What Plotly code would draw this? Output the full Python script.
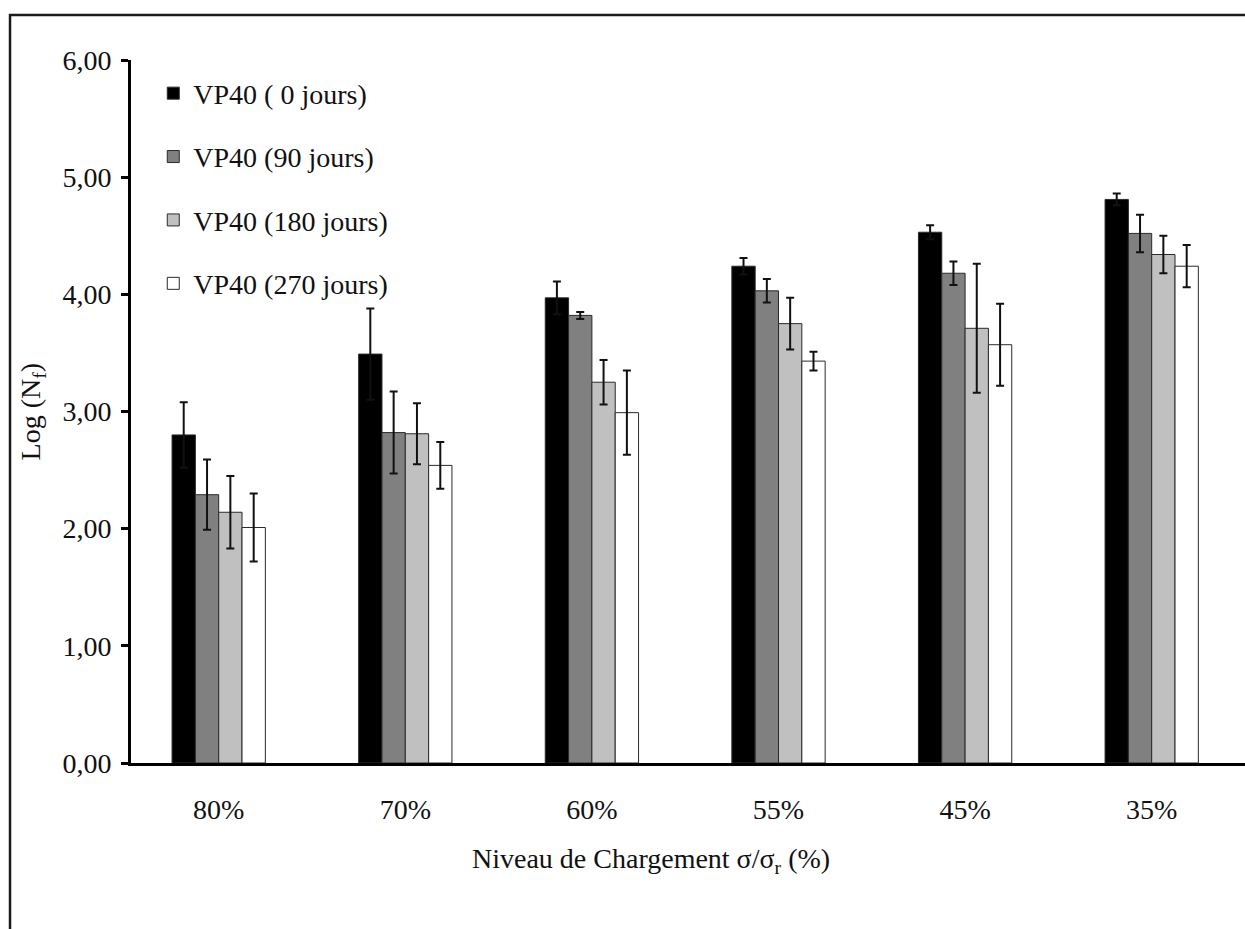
import plotly.graph_objects as go

# Loading levels (sigma / sigma_r)
categories = ["80%", "70%", "60%", "55%", "45%", "35%"]

# Mean Log(Nf) per ageing duration, with standard deviation
vp40_0j = [2.80, 3.49, 3.97, 4.24, 4.53, 4.81]
vp40_0j_err = [0.28, 0.39, 0.14, 0.07, 0.06, 0.05]

vp40_90j = [2.29, 2.82, 3.82, 4.03, 4.18, 4.52]
vp40_90j_err = [0.30, 0.35, 0.03, 0.10, 0.10, 0.16]

vp40_180j = [2.14, 2.81, 3.25, 3.75, 3.71, 4.34]
vp40_180j_err = [0.31, 0.26, 0.19, 0.22, 0.55, 0.16]

vp40_270j = [2.01, 2.54, 2.99, 3.43, 3.57, 4.24]
vp40_270j_err = [0.29, 0.20, 0.36, 0.08, 0.35, 0.18]

series_names = ["VP40 ( 0 jours)", "VP40 (90 jours)", "VP40 (180 jours)", "VP40 (270 jours)"]
series_values = [vp40_0j, vp40_90j, vp40_180j, vp40_270j]
series_errors = [vp40_0j_err, vp40_90j_err, vp40_180j_err, vp40_270j_err]
series_colors = ["#000000", "#808080", "#c0c0c0", "#ffffff"]

FONT = "Liberation Serif, Times New Roman, serif"
FS = 28

fig = go.Figure()
for i, (name, vals, errs, col) in enumerate(zip(series_names, series_values, series_errors, series_colors)):
    fig.add_trace(go.Bar(
        x=categories,
        y=vals,
        name=name,
        legendgroup=f"g{i}",
        marker=dict(color=col, line=dict(color="#2a2a2a", width=1)),
        error_y=dict(type="data", array=errs, visible=True,
                     color="#111111", thickness=2, width=4),
    ))

# Outer frame (left and top edges visible in the canvas)
fig.add_shape(type="rect", xref="paper", yref="paper",
              x0=-0.1086, x1=1.05, y0=-0.35, y1=1.064,
              line=dict(color="#1a1a1a", width=2.5), fillcolor="rgba(0,0,0,0)",
              layer="below")

# Axis titles
fig.add_annotation(text="Niveau de Chargement σ/σ<sub>r</sub> (%)",
                   xref="paper", yref="paper", x=0.4668, y=-0.139,
                   xanchor="center", yanchor="middle", showarrow=False,
                   font=dict(family=FONT, size=FS, color="#111111"))
fig.add_annotation(text="Log (N<sub>f</sub>)",
                   xref="paper", yref="paper", x=-0.088, y=0.5,
                   xanchor="center", yanchor="middle", textangle=-90,
                   showarrow=False,
                   font=dict(family=FONT, size=FS, color="#111111"))

fig.update_layout(
    width=1245, height=929,
    margin=dict(l=131, r=0, t=60, b=166),
    paper_bgcolor="white", plot_bgcolor="white",
    separators=", ",
    barmode="group", bargap=0.5, bargroupgap=0,
    font=dict(family=FONT, size=FS, color="#111111"),
    showlegend=True,
    legend=dict(x=0.02, y=0.988, xanchor="left", yanchor="top",
                bgcolor="rgba(0,0,0,0)", traceorder="grouped",
                tracegroupgap=24, font=dict(family=FONT, size=FS)),
    xaxis=dict(range=[-0.47, 5.5], showline=True, linecolor="#000000", linewidth=3,
               ticks="", showgrid=False, zeroline=False,
               ticklabelstandoff=19, tickfont=dict(family=FONT, size=FS)),
    yaxis=dict(range=[0, 6], tickvals=[0, 1, 2, 3, 4, 5, 6], tickformat=".2f",
               showline=True, linecolor="#000000", linewidth=3,
               ticks="outside", ticklen=7, tickwidth=3, tickcolor="#000000",
               showgrid=False, zeroline=False, ticklabelstandoff=4,
               tickfont=dict(family=FONT, size=FS)),
)

fig.write_html("out.html")
